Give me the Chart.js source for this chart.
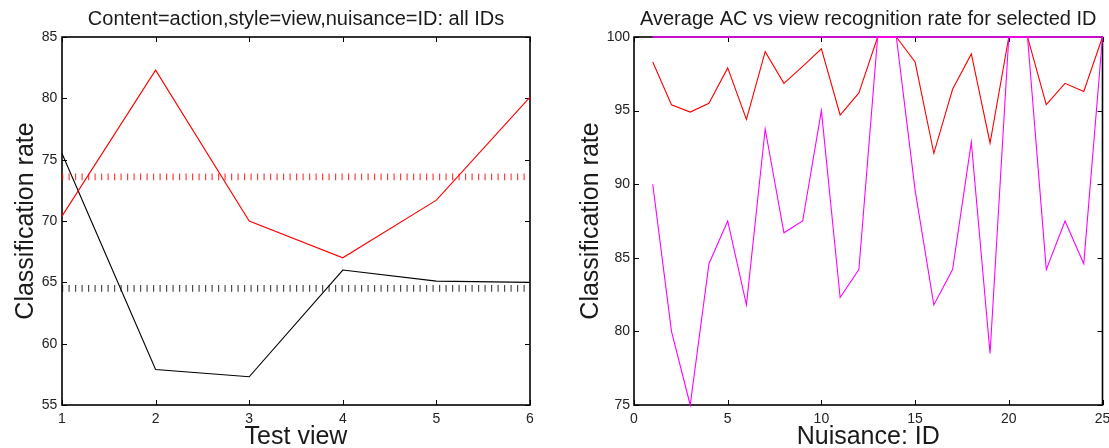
<!DOCTYPE html>
<html>
<head>
<meta charset="utf-8">
<script src="https://cdn.jsdelivr.net/npm/chart.js@4.4.1/dist/chart.umd.min.js"></script>
<style>
  html, body { margin: 0; padding: 0; background: #fff; }
  body { width: 1109px; height: 448px; position: relative; overflow: hidden; }
  canvas { position: absolute; top: 0; }
  #left { left: 0; }
  #right { left: 560px; }
</style>
</head>
<body>
<canvas id="left" width="560" height="448"></canvas>
<canvas id="right" width="549" height="448"></canvas>
<script>
// ---- Left panel: classification rate per test view ----
const testViews = [1, 2, 3, 4, 5, 6];
const actionRates = [70.4, 82.3, 70.0, 67.0, 71.7, 80.1];
const viewRates = [75.5, 57.9, 57.3, 66.0, 65.1, 65.0];
const actionMean = 73.6;
const viewMean = 64.5;
const leftXTicks = [1, 2, 3, 4, 5, 6];
const leftYTicks = [55, 60, 65, 70, 75, 80, 85];

// ---- Right panel: per-ID rates ----
const nuisanceIds = [1, 2, 3, 4, 5, 6, 7, 8, 9, 10, 11, 12, 13, 14, 15, 16, 17, 18, 19, 20, 21, 22, 23, 24, 25];
const acRates = [98.3, 95.4, 94.9, 95.5, 97.9, 94.4, 99.0, 96.85, 98.0, 99.2, 94.7, 96.2, 100, 100, 98.3, 92.1, 96.45, 98.85, 92.8, 100, 100, 95.4, 96.85, 96.3, 100];
const viewRecRates = [90.0, 80.0, 75.0, 84.6, 87.5, 81.8, 93.75, 86.7, 87.5, 95.0, 82.3, 84.2, 100, 100, 89.6, 81.8, 84.2, 92.85, 78.5, 100, 100, 84.2, 87.5, 84.6, 100];
const bestRate = 100;
const rightXTicks = [0, 5, 10, 15, 20, 25];
const rightYTicks = [75, 80, 85, 90, 95, 100];

const FONT = '"Liberation Sans", Arial, Helvetica, sans-serif';
const pts = (xs, ys) => xs.map((x, i) => ({ x: x, y: ys[i] }));

// Box with inward ticks on all four sides, plus title and axis labels
function framePlugin(cfg) {
  return {
    id: 'frame',
    beforeDatasetsDraw(chart) {
      const { ctx, chartArea: a, scales } = chart;
      ctx.save();
      ctx.strokeStyle = '#000';
      ctx.lineWidth = 1;
      const tl = 5;
      ctx.beginPath();
      scales.x.ticks.forEach(t => {
        const px = Math.round(scales.x.getPixelForValue(t.value)) + 0.5;
        ctx.moveTo(px, a.bottom); ctx.lineTo(px, a.bottom - tl);
        ctx.moveTo(px, a.top); ctx.lineTo(px, a.top + tl);
      });
      scales.y.ticks.forEach(t => {
        const py = Math.round(scales.y.getPixelForValue(t.value)) + 0.5;
        ctx.moveTo(a.left, py); ctx.lineTo(a.left + tl, py);
        ctx.moveTo(a.right, py); ctx.lineTo(a.right - tl, py);
      });
      ctx.stroke();
      ctx.lineWidth = 1.6;
      ctx.strokeRect(a.left, a.top, a.right - a.left, a.bottom - a.top);
      ctx.restore();
    },
    afterDraw(chart) {
      const { ctx, chartArea: a } = chart;
      const cx = (a.left + a.right) / 2;
      const cy = (a.top + a.bottom) / 2;
      ctx.save();
      ctx.fillStyle = '#1a1a1a';
      ctx.textAlign = 'center';
      ctx.textBaseline = 'alphabetic';
      ctx.font = '20px ' + FONT;
      ctx.fillText(cfg.title, cx, 25);
      ctx.font = '25px ' + FONT;
      ctx.fillText(cfg.xLabel, cx, 444);
      ctx.translate(cfg.yLabelX, cy);
      ctx.rotate(-Math.PI / 2);
      ctx.fillText(cfg.yLabel, 0, 0);
      ctx.restore();
    }
  };
}

function scaleOpts(min, max, tickValues, axis, size, pad) {
  return {
    type: 'linear',
    min: min,
    max: max,
    afterBuildTicks(s) { s.ticks = tickValues.map(v => ({ value: v })); },
    afterFit(s) {
      if (axis === 'x') { s.height = size; } else { s.width = size; }
      s.paddingLeft = 0; s.paddingRight = 0; s.paddingTop = 0; s.paddingBottom = 0;
    },
    grid: { display: false, drawTicks: false },
    border: { display: false },
    ticks: {
      autoSkip: false,
      maxRotation: 0,
      padding: pad,
      color: '#222',
      font: { family: FONT, size: 14 },
      callback: v => String(v)
    }
  };
}

const common = {
  responsive: false,
  animation: false,
  devicePixelRatio: 1,
  plugins: { legend: { display: false }, tooltip: { enabled: false } },
  elements: { point: { radius: 0 }, line: { tension: 0 } }
};

new Chart(document.getElementById('left'), {
  type: 'line',
  data: {
    datasets: [
      { data: pts(testViews, actionRates), borderColor: '#ff0000', borderWidth: 1.1, clip: 4, order: 0 },
      { data: pts(testViews, viewRates), borderColor: '#000000', borderWidth: 1.1, clip: 4, order: 1 },
      { data: pts([testViews[0], testViews[testViews.length - 1]], [actionMean, actionMean]),
        borderColor: 'rgba(255,0,0,0.75)', borderWidth: 6.7, borderDash: [1.2, 5.3], borderCapStyle: 'butt', clip: 4, order: 2 },
      { data: pts([testViews[0], testViews[testViews.length - 1]], [viewMean, viewMean]),
        borderColor: 'rgba(0,0,0,0.7)', borderWidth: 6.7, borderDash: [1.2, 5.3], borderCapStyle: 'butt', clip: 4, order: 3 }
    ]
  },
  options: Object.assign({}, common, {
    layout: { padding: { top: 37, right: 30, left: 0, bottom: 0 } },
    scales: {
      x: scaleOpts(1, 6, leftXTicks, 'x', 43, 6),
      y: scaleOpts(55, 85, leftYTicks, 'y', 62, 4.7)
    }
  }),
  plugins: [framePlugin({
    title: 'Content=action,style=view,nuisance=ID: all IDs',
    xLabel: 'Test view',
    yLabel: 'Classification rate',
    yLabelX: 33
  })]
});

new Chart(document.getElementById('right'), {
  type: 'line',
  data: {
    datasets: [
      { data: pts([nuisanceIds[0], nuisanceIds[nuisanceIds.length - 1]], [bestRate, bestRate]),
        borderColor: '#ff00ff', borderWidth: 1.6, clip: 4, order: 0 },
      { data: pts(nuisanceIds, viewRecRates), borderColor: '#ff00ff', borderWidth: 1.1, clip: 4, order: 1 },
      { data: pts(nuisanceIds, acRates), borderColor: '#ff0000', borderWidth: 1.1, clip: 4, order: 2 }
    ]
  },
  options: Object.assign({}, common, {
    layout: { padding: { top: 37, right: 6.5, left: 0, bottom: 0 } },
    scales: {
      x: scaleOpts(0, 25, rightXTicks, 'x', 43, 6),
      y: scaleOpts(75, 100, rightYTicks, 'y', 74, 4)
    }
  }),
  plugins: [framePlugin({
    title: 'Average AC vs view recognition rate for selected ID',
    xLabel: 'Nuisance: ID',
    yLabel: 'Classification rate',
    yLabelX: 38
  })]
});
</script>
</body>
</html>
